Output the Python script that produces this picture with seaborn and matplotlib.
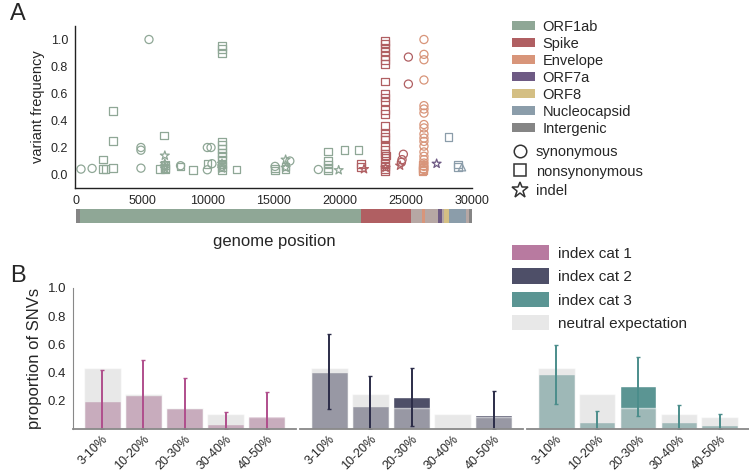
import numpy as np
import pandas as pd
import matplotlib
matplotlib.use('Agg')
from matplotlib import pyplot as plt
from matplotlib.patches import Patch
from matplotlib.lines import Line2D
from matplotlib.transforms import ScaledTranslation
import seaborn as sns

# ---- panel A data ----
genes = ['ORF1ab', 'Spike', 'Envelope', 'ORF7a', 'ORF8', 'Nucleocapsid', 'Intergenic']
gene_colors = ['#8fa796', '#b05f62', '#d8957a', '#6e5a84', '#d4bf84', '#8b9daa', '#858585']
other_color = '#b6a7a4'

seg_start = [0, 266, 21563, 25393, 26245, 26472, 27394, 27759, 27894, 28274, 29533, 29800]
seg_end = [266, 21563, 25393, 26245, 26472, 27394, 27759, 27894, 28274, 29533, 29800, 30000]
seg_gene = ['Intergenic', 'ORF1ab', 'Spike', 'other', 'Envelope', 'other', 'ORF7a',
            'other', 'ORF8', 'Nucleocapsid', 'other', 'Intergenic']

# variants: position, frequency, gene, type
orf1_syn_pos = [380, 1220, 4920, 4920, 4920, 5530, 7920, 9950, 10230, 9950, 10300, 15080, 16200, 18360]
orf1_syn_frq = [0.04, 0.045, 0.2, 0.18, 0.047, 1.0, 0.065, 0.2, 0.2, 0.035, 0.08, 0.06, 0.1, 0.037]
orf1_non_pos = [2030, 2030, 2230, 2790, 2790, 2790, 6350, 6650, 6730, 6730, 6730, 7920, 8880, 9950,
                11060, 11060, 11060, 11060, 11060, 11060, 11060, 11060, 11060, 11060, 11060, 11060,
                12170, 15080, 15080, 15880, 15880, 19090, 19090, 19090, 19090, 19090, 20330, 21410]
orf1_non_frq = [0.11, 0.04, 0.04, 0.47, 0.25, 0.047, 0.04, 0.29, 0.07, 0.05, 0.04, 0.06, 0.035, 0.08,
                0.95, 0.93, 0.9, 0.245, 0.22, 0.19, 0.16, 0.135, 0.11, 0.075, 0.055, 0.035,
                0.037, 0.045, 0.03, 0.06, 0.04, 0.17, 0.1, 0.075, 0.05, 0.03, 0.18, 0.18]
orf1_ind_pos = [6730, 6730, 6730, 6730, 11060, 11060, 11060, 15880, 15880, 19900]
orf1_ind_frq = [0.14, 0.08, 0.06, 0.045, 0.08, 0.06, 0.045, 0.11, 0.05, 0.032]

spike_non_pos = [23403] * 25 + [23500, 21600, 21600]
spike_non_frq = [0.99, 0.97, 0.94, 0.91, 0.88, 0.85, 0.82, 0.69, 0.6, 0.57, 0.54, 0.48, 0.45, 0.36,
                 0.31, 0.28, 0.26, 0.21, 0.18, 0.155, 0.12, 0.08, 0.06, 0.04, 0.025, 0.14, 0.08, 0.055]
spike_syn_pos = [25180, 25180, 24800, 24700, 24650]
spike_syn_frq = [0.87, 0.67, 0.15, 0.11, 0.09]
spike_ind_pos = [21820, 24550, 23450]
spike_ind_frq = [0.04, 0.066, 0.05]

env_syn_pos = [26360] * 19
env_syn_frq = [1.0, 0.89, 0.85, 0.7, 0.51, 0.485, 0.455, 0.37, 0.345, 0.3, 0.27, 0.245, 0.21,
               0.167, 0.135, 0.11, 0.085, 0.06, 0.037]
env_non_pos = [26300, 26300, 26300, 26250]
env_non_frq = [0.07, 0.05, 0.035, 0.025]

orf7a_ind_pos = [27320]
orf7a_ind_frq = [0.08]

ncap_non_pos = [28210, 28940, 28940]
ncap_non_frq = [0.28, 0.075, 0.054]
ncap_oth_pos = [29240]
ncap_oth_frq = [0.054]

groups = [
    ('ORF1ab', 'synonymous', orf1_syn_pos, orf1_syn_frq),
    ('ORF1ab', 'nonsynonymous', orf1_non_pos, orf1_non_frq),
    ('ORF1ab', 'indel', orf1_ind_pos, orf1_ind_frq),
    ('Spike', 'nonsynonymous', spike_non_pos, spike_non_frq),
    ('Spike', 'synonymous', spike_syn_pos, spike_syn_frq),
    ('Spike', 'indel', spike_ind_pos, spike_ind_frq),
    ('Envelope', 'synonymous', env_syn_pos, env_syn_frq),
    ('Envelope', 'nonsynonymous', env_non_pos, env_non_frq),
    ('ORF7a', 'indel', orf7a_ind_pos, orf7a_ind_frq),
    ('Nucleocapsid', 'nonsynonymous', ncap_non_pos, ncap_non_frq),
    ('Nucleocapsid', 'other', ncap_oth_pos, ncap_oth_frq),
]
rows = []
for g, t, p, f in groups:
    for pp, ff in zip(p, f):
        rows.append((pp, ff, g, t))
variants = pd.DataFrame(rows, columns=['pos', 'freq', 'gene', 'type'])

# ---- panel B data ----
bins = ['3-10%', '10-20%', '20-30%', '30-40%', '40-50%']
neutral = [0.43, 0.247, 0.146, 0.103, 0.085]
cat1 = [0.198, 0.242, 0.148, 0.033, 0.09]
cat1_lo = [0, 0, 0, 0, 0]
cat1_hi = [0.419, 0.492, 0.36, 0.118, 0.259]
cat2 = [0.405, 0.165, 0.228, 0.0, 0.099]
cat2_lo = [0.139, 0, 0.02, np.nan, 0]
cat2_hi = [0.675, 0.376, 0.433, np.nan, 0.27]
cat3 = [0.388, 0.049, 0.303, 0.049, 0.03]
cat3_lo = [0.176, 0, 0.09, 0, 0]
cat3_hi = [0.595, 0.125, 0.513, 0.167, 0.104]
cat_names = ['index cat 1', 'index cat 2', 'index cat 3']
cat_colors = ['#b87aa0', '#4e4f68', '#5b9593']
err_colors = ['#b04e8c', '#2b2c48', '#4b8d8b']
neutral_color = '#d6d6d6'

#%%
sns.set_style('white')
plt.rcParams['font.family'] = ['Liberation Sans', 'DejaVu Sans']
W, H = 749, 472
fig = plt.figure(figsize=(W / 100, H / 100), dpi=100)


def box(x0, y0, x1, y1):
    return [x0 / W, 1 - y1 / H, (x1 - x0) / W, (y1 - y0) / H]


# scatter
ax = fig.add_axes(box(75, 26, 472, 188))
pal = dict(zip(genes, gene_colors))
mk = {'synonymous': 'o', 'nonsynonymous': 's', 'indel': '*', 'other': '^'}
for t, sz in [('synonymous', 34), ('nonsynonymous', 30), ('indel', 45), ('other', 28)]:
    sub = variants[variants['type'] == t]
    sns.scatterplot(data=sub, x='pos', y='freq', hue='gene', palette=pal, marker=mk[t],
                    s=sz, linewidth=0.9, legend=False, ax=ax)
    coll = ax.collections[-1]
    fc = coll.get_facecolors()
    coll.set_edgecolors(fc)
    coll.set_facecolors('none')
ax.set_xlim(-75, 30000)
ax.set_ylim(-0.1, 1.1)
ax.set_xticks(range(0, 30001, 5000))
ax.set_yticks([0, 0.2, 0.4, 0.6, 0.8, 1.0])
ax.set_yticklabels(['0.0', '0.2', '0.4', '0.6', '0.8', '1.0'])
ax.set_xlabel('')
ax.set_ylabel('variant frequency', fontsize=10.5, labelpad=4)
sns.despine(ax=ax)
for s in ['left', 'bottom']:
    ax.spines[s].set_color('#222222')
    ax.spines[s].set_linewidth(1.0)
ax.tick_params(axis='both', labelsize=9, length=3, width=0.8, pad=2, color='#222222')

# genome map
gx = fig.add_axes(box(76, 209, 472, 223))
for a, b, g in zip(seg_start, seg_end, seg_gene):
    gx.barh(0, b - a, left=a, height=1, color=pal.get(g, other_color), edgecolor='none')
gx.set_xlim(0, 30000)
gx.set_ylim(-0.5, 0.5)
gx.axis('off')
fig.text(274 / W, 1 - 242 / H, 'genome position', ha='center', va='center', fontsize=12)

# gene / type legend
gene_handles = [Patch(facecolor=c, edgecolor='none') for c in gene_colors]
fig.legend(gene_handles, genes, loc='upper left', bbox_to_anchor=(512 / W, 1 - 20 / H),
           frameon=False, fontsize=10.5, handlelength=1.55, handleheight=0.55,
           labelspacing=0.2, handletextpad=0.55, borderpad=0, borderaxespad=0)
type_handles = [Line2D([], [], marker=m, linestyle='none', markerfacecolor='none',
                       markeredgecolor='#333333', markersize=ms, markeredgewidth=1.1)
                for m, ms in [('o', 9), ('s', 8), ('*', 12)]]
fig.legend(type_handles, ['synonymous', 'nonsynonymous', 'indel'], loc='upper left',
           bbox_to_anchor=(513 / W, 1 - 145 / H), frameon=False, fontsize=10.5,
           handlelength=1.0, labelspacing=0.38, handletextpad=0.55, borderpad=0, borderaxespad=0)

# panel B
spans = [(73, 296), (300, 523), (527, 749)]
cats = [(cat1, cat1_lo, cat1_hi), (cat2, cat2_lo, cat2_hi), (cat3, cat3_lo, cat3_hi)]
shift = ScaledTranslation(7 / 100, 0, fig.dpi_scale_trans)
for i, ((x0, x1), (vals, lo, hi)) in enumerate(zip(spans, cats)):
    bx = fig.add_axes(box(x0, 288, x1, 429))
    sns.barplot(x=bins, y=vals, color=cat_colors[i], saturation=1, width=0.9, ax=bx)
    sns.barplot(x=bins, y=neutral, color=neutral_color, saturation=1, width=0.9, alpha=0.55, ax=bx)
    v = np.array(vals)
    bx.errorbar(range(len(bins)), v, yerr=[v - np.array(lo), np.array(hi) - v], fmt='none',
                ecolor=err_colors[i], elinewidth=1.4, capsize=1.5, capthick=1.0)
    bx.set_xlim(-0.71, 4.71)
    bx.set_ylim(0, 1.0)
    bx.set_xlabel('')
    bx.set_xticks(range(len(bins)))
    bx.set_xticklabels(bins, rotation=45, ha='right', va='top', rotation_mode='anchor', fontsize=9)
    for lab in bx.get_xticklabels():
        lab.set_transform(lab.get_transform() + shift)
    bx.tick_params(axis='x', length=0, pad=3)
    sns.despine(ax=bx, left=(i > 0))
    bx.spines['bottom'].set_color('#888888')
    bx.spines['bottom'].set_linewidth(1.3)
    if i == 0:
        bx.set_yticks([0.2, 0.4, 0.6, 0.8, 1.0])
        bx.set_yticklabels(['0.2', '0.4', '0.6', '0.8', '1.0'])
        bx.tick_params(axis='y', labelsize=9.5, length=3, width=0.8, pad=2)
        bx.spines['left'].set_color('#888888')
        bx.set_ylabel('proportion of SNVs', fontsize=12, labelpad=4)
    else:
        bx.set_yticks([])
        bx.set_ylabel('')

cat_handles = [Patch(facecolor=c, edgecolor='none') for c in cat_colors]
cat_handles.append(Patch(facecolor=neutral_color, alpha=0.55, edgecolor='none'))
fig.legend(cat_handles, cat_names + ['neutral expectation'], loc='upper left',
           bbox_to_anchor=(512 / W, 1 - 245 / H), frameon=False, fontsize=11,
           handlelength=2.4, handleheight=1.15, labelspacing=0.5, handletextpad=0.6,
           borderpad=0, borderaxespad=0)

fig.text(10 / W, 1 - 14 / H, 'A', fontsize=17, va='center')
fig.text(10 / W, 1 - 276 / H, 'B', fontsize=17, va='center')

plt.savefig('out.png', dpi=100)
